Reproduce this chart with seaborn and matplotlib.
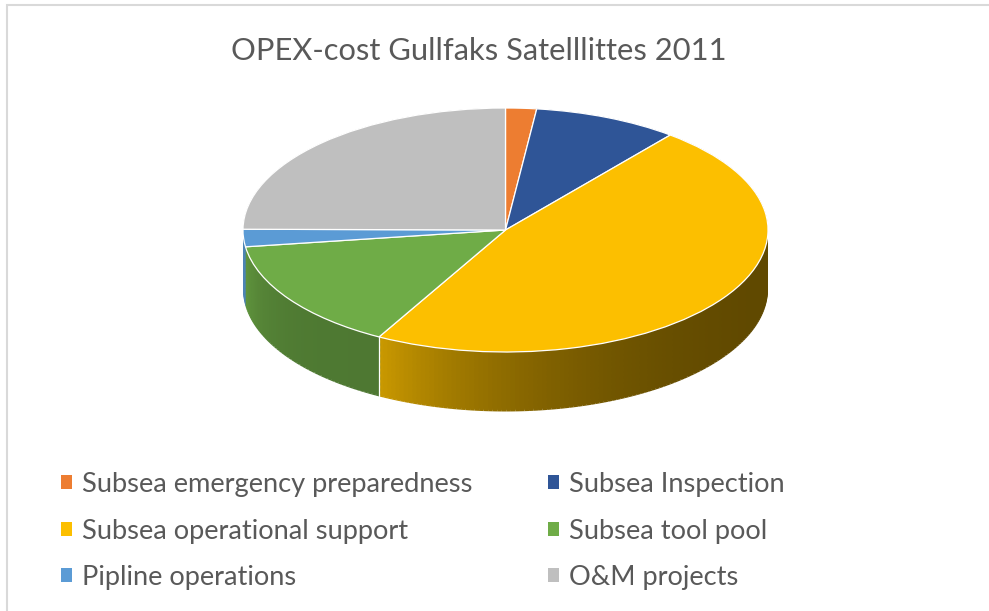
import matplotlib.pyplot as plt
import matplotlib.colors as mcolors
from matplotlib.patches import Rectangle
import numpy as np
import seaborn as sns

# shares of the 2011 OPEX (percent)
categories = [
    "Subsea emergency preparedness",
    "Subsea Inspection",
    "Subsea operational support",
    "Subsea tool pool",
    "Pipline operations",
    "O&M projects",
]
shares = [1.9, 8.9, 47.2, 14.8, 2.3, 24.9]
colors = ["#ED7D31", "#2F5597", "#FCBF00", "#6FAC47", "#5B9BD5", "#BFBFBF"]

# side-wall shading (fraction of base colour, left end / right end of the wall)
side_light = [0.80, 0.80, 0.80, 0.88, 0.85, 0.80]
side_dark = [0.45, 0.45, 0.38, 0.70, 0.85, 0.60]

sns.set_theme(style="white")
plt.rcParams["font.family"] = ["Lato", "DejaVu Sans"]

W, H = 989, 611
fig = plt.figure(figsize=(W / 100, H / 100), dpi=100)
fig.patch.set_facecolor("white")
ax = fig.add_axes([0, 0, 1, 1])

# pie geometry in pixels (centre, half-axes, wall height)
cx, cy, rx, ry, depth_px = 505.5, 230, 262.5, 122, 59.5
depth = depth_px / ry

angles = np.array(shares) / sum(shares) * 360
starts = np.concatenate([[0], np.cumsum(angles)[:-1]])

# split each slice into thin pieces so the wall can carry a gradient
sub_vals, sub_cols = [], []
for i, (val, col) in enumerate(zip(shares, colors)):
    n = max(1, int(round(angles[i])))
    a0, a1 = starts[i], starts[i] + angles[i]
    left, right = min(a1, 270), max(a0, 90)
    base = np.array(mcolors.to_rgb(col))
    for j in range(n):
        a = a0 + (j + 0.5) * angles[i] / n
        t = np.clip((left - a) / (left - right), 0, 1) if left > right else 0.0
        f = side_dark[i] + (side_light[i] - side_dark[i]) * (1 - t) ** 3
        sub_vals.append(val / n)
        sub_cols.append(np.clip(base * f, 0, 1))

for d in np.linspace(depth, 0.0, 50):
    ax.pie(sub_vals, colors=sub_cols, startangle=90, counterclock=False,
           center=(0, -d), wedgeprops=dict(linewidth=0))

wedges, _ = ax.pie(shares, colors=colors, startangle=90, counterclock=False,
                   wedgeprops=dict(edgecolor="white", linewidth=0.9))

# white seams on the wall where slices meet
for b in np.cumsum(angles)[:-1]:
    if 90 < b < 255:
        r = np.deg2rad(b)
        ax.plot([np.sin(r)] * 2, [np.cos(r), np.cos(r) - depth],
                color="white", lw=0.9)

ax.set_xlim(-cx / rx, (W - cx) / rx)
ax.set_ylim(-(H - cy) / ry, cy / ry)
ax.set_aspect("auto")
ax.axis("off")

fig.text(479 / W, 1 - 51 / H, "OPEX-cost Gullfaks Satelllittes 2011",
         ha="center", va="center", fontsize=22.2, color="#595959")

# legend: two columns laid out row by row, as in the original
for col_idx, x0 in enumerate([61, 548]):
    idx = [col_idx, col_idx + 2, col_idx + 4]
    handles = [plt.Rectangle((0, 0), 1, 1, facecolor=colors[i], edgecolor="none")
               for i in idx]
    fig.legend(handles, [categories[i] for i in idx], loc="upper left",
               bbox_to_anchor=(x0 / W, 1 - 472 / H), frameon=False,
               fontsize=19.6, labelcolor="#595959", handlelength=0.42,
               handleheight=0.42, handletextpad=0.36, labelspacing=0.79,
               borderpad=0, borderaxespad=0)

fig.add_artist(Rectangle((7 / W, -0.5), 2, 1.5 - 5 / H, transform=fig.transFigure,
                         fill=False, edgecolor="#D9D9D9", lw=1.5))

fig.savefig("out.png", dpi=100, facecolor="white")
